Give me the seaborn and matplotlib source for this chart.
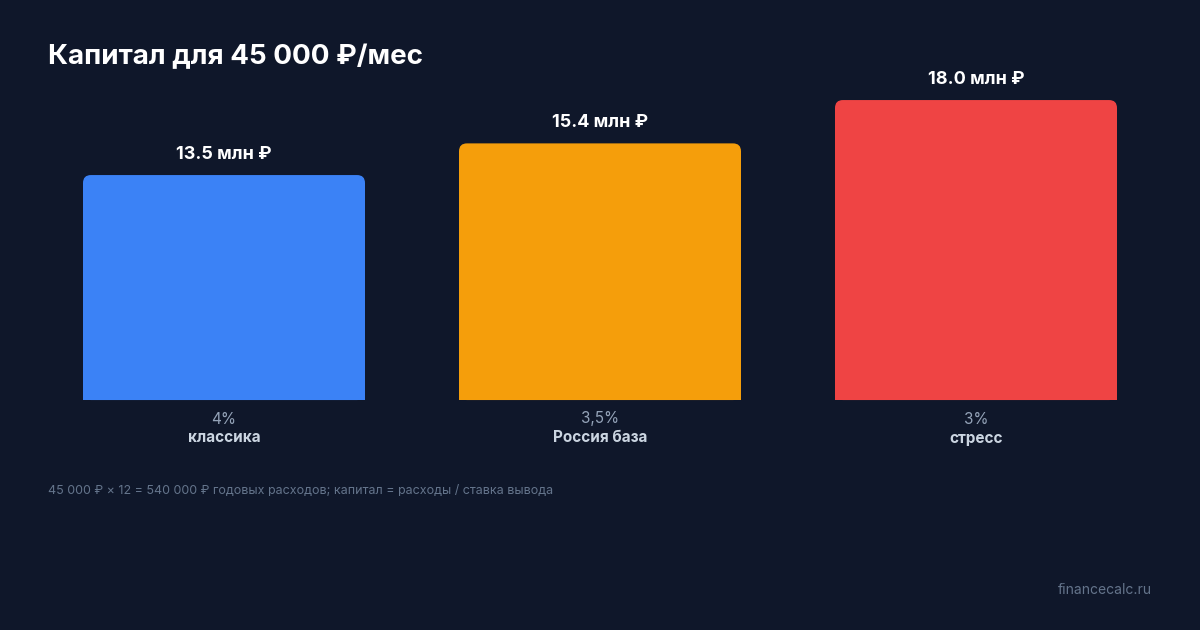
import matplotlib
matplotlib.use("Agg")
import matplotlib.pyplot as plt
import seaborn as sns
import pandas as pd
from matplotlib.patches import FancyBboxPatch, Rectangle

rates = ["4%", "3,5%", "3%"]
names = ["классика", "Россия база", "стресс"]
values = [13.5, 15.4, 18.0]
colors = ["#3b82f6", "#f59e0b", "#ef4444"]

BG = "#0f172a"
sns.set_theme(style="dark")
plt.rcParams['font.family'] = ['Inter', 'DejaVu Sans']

fig = plt.figure(figsize=(12, 6.3), dpi=100, facecolor=BG)
ax = fig.add_axes([0.03, 0.365, 0.94, 300/630])
ax.set_facecolor(BG)
df = pd.DataFrame({"k": rates, "v": values})
sns.barplot(data=df, x="k", y="v", hue="k", palette=colors, width=0.75, ax=ax, legend=False, saturation=1)
ax.set_xlim(-0.5, 2.5)
ax.set_ylim(0, 18)
for p, c in zip(list(ax.patches), colors):
    x, w, h = p.get_x(), p.get_width(), p.get_height()
    p.set_visible(False)
    ax.add_patch(FancyBboxPatch((x, 0), w, h, boxstyle="round,pad=0,rounding_size=0.021",
                                mutation_aspect=22.6, fc=c, ec="none", clip_on=False))
    ax.add_patch(Rectangle((x, 0), w, min(h, 1), fc=c, ec="none"))
for i, (r, n, v) in enumerate(zip(rates, names, values)):
    ax.text(i, v + 0.75, f"{v:.1f} млн ₽", ha="center", va="bottom", color="white",
            fontsize=13, fontweight="bold", clip_on=False)
ax.set_xticks([])
ax.set_yticks([])
ax.set_xlabel(""); ax.set_ylabel("")
for s in ax.spines.values():
    s.set_visible(False)
for i, (r, n) in enumerate(zip(rates, names)):
    fx = (36 + 376 * i + 188) / 1200
    fig.text(fx, 1 - 419/630, r, ha="center", va="center", color="#94a3b8", fontsize=11)
    fig.text(fx, 1 - 438/630, n, ha="center", va="center", color="#cbd5e1", fontsize=11, fontweight="bold")

fig.text(48/1200, 1 - 57/630, "Капитал для 45 000 ₽/мес", ha="left", va="center",
         color="white", fontsize=20, fontweight="bold")
fig.text(48/1200, 1 - 491/630, "45 000 ₽ × 12 = 540 000 ₽ годовых расходов; капитал = расходы / ставка вывода",
         ha="left", va="center", color="#64748b", fontsize=9)
fig.text(1152/1200, 1 - 590/630, "financecalc.ru", ha="right", va="center", color="#64748b", fontsize=10)
fig.savefig("out.png", dpi=100, facecolor=BG)
